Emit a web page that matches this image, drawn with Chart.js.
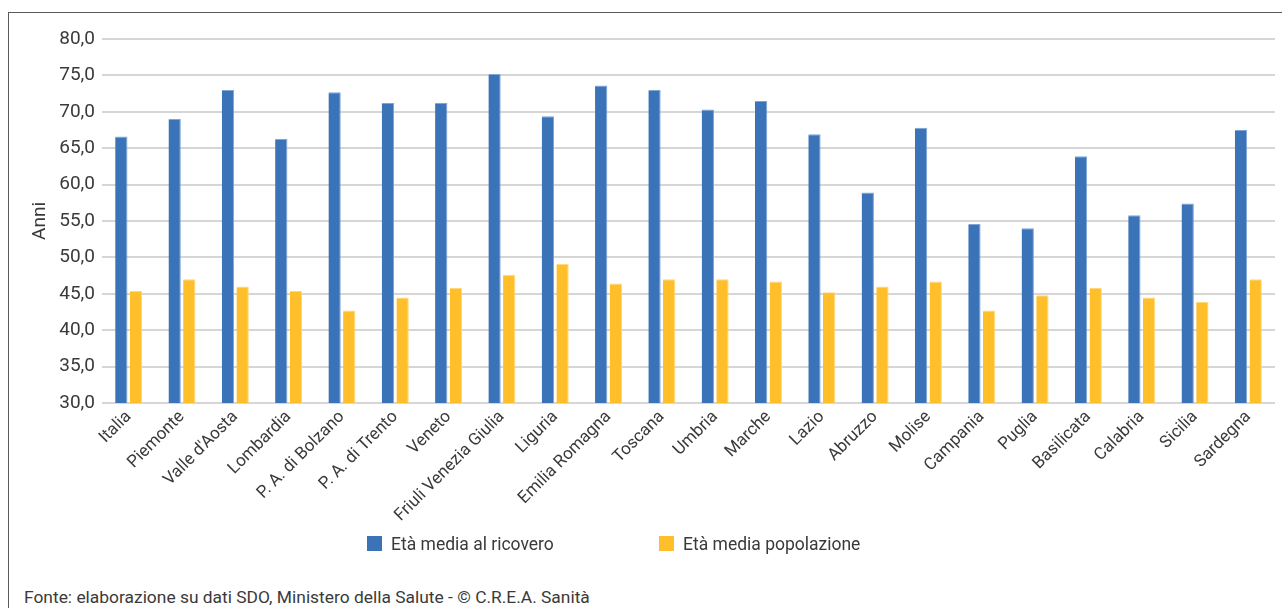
<!DOCTYPE html>
<html>
<head>
<meta charset="utf-8">
<script src="https://cdn.jsdelivr.net/npm/chart.js@4.4.1/dist/chart.umd.min.js"></script>
<style>
  html, body { margin: 0; padding: 0; background: #ffffff; }
  #wrap { position: relative; width: 1282px; height: 608px; overflow: hidden; font-family: Roboto, "Liberation Sans", sans-serif; color: #3a3a3a; }
  #frame { position: absolute; left: 8px; top: 12px; width: 1300px; height: 620px; border-left: 1px solid #5a5a5a; border-top: 1px solid #5a5a5a; }
  #cv { position: absolute; left: 0; top: 0; }
  .leg { position: absolute; top: 533px; font-size: 17.5px; line-height: 22px; white-space: nowrap; }
  .leg span.box { display: inline-block; width: 15px; height: 15px; vertical-align: -1px; margin-right: 9px; }
  #foot { position: absolute; left: 24px; top: 586px; font-size: 17.4px; line-height: 22px; white-space: nowrap; }
</style>
</head>
<body>
<div id="wrap">
  <div id="frame"></div>
  <canvas id="cv" width="1282" height="540"></canvas>
  <div class="leg" id="leg1" style="left:367px"><span class="box" style="background:#3B73B9"></span><span id="l1"></span></div>
  <div class="leg" id="leg2" style="left:659px"><span class="box" style="background:#FEBF2A"></span><span id="l2"></span></div>
  <div id="foot"></div>
</div>
<script>
const categories = ["Italia", "Piemonte", "Valle d'Aosta", "Lombardia", "P. A. di Bolzano", "P. A. di Trento", "Veneto", "Friuli Venezia Giulia", "Liguria", "Emilia Romagna", "Toscana", "Umbria", "Marche", "Lazio", "Abruzzo", "Molise", "Campania", "Puglia", "Basilicata", "Calabria", "Sicilia", "Sardegna"];
const etaRicovero = [66.6, 69.0, 73.0, 66.3, 72.7, 71.2, 71.2, 75.2, 69.4, 73.6, 73.0, 70.3, 71.5, 66.9, 58.9, 67.8, 54.6, 54.0, 63.9, 55.8, 57.4, 67.5];
const etaPopolazione = [45.4, 47.0, 46.0, 45.4, 42.7, 44.5, 45.8, 47.6, 49.1, 46.4, 47.0, 47.0, 46.7, 45.2, 46.0, 46.7, 42.7, 44.8, 45.8, 44.5, 43.9, 47.0];
const seriesNames = ["Età media al ricovero", "Età media popolazione"];
const yTitle = "Anni";
const sourceNote = "Fonte: elaborazione su dati SDO, Ministero della Salute - © C.R.E.A. Sanità";

document.getElementById('l1').textContent = seriesNames[0];
document.getElementById('l2').textContent = seriesNames[1];
document.getElementById('foot').textContent = sourceNote;

const FONT = "Roboto, 'Liberation Sans', sans-serif";
const TXT = '#3a3a3a';

new Chart(document.getElementById('cv'), {
  type: 'bar',
  data: {
    labels: categories,
    datasets: [
      { label: seriesNames[0], data: etaRicovero, backgroundColor: '#3B73B9', borderColor: '#7FA4D6', borderWidth: {left: 0, right: 1, top: 1, bottom: 0}, categoryPercentage: 0.55, barPercentage: 0.84 },
      { label: seriesNames[1], data: etaPopolazione, backgroundColor: '#FEBF2A', borderColor: '#FFD97A', borderWidth: {left: 0, right: 1, top: 1, bottom: 0}, categoryPercentage: 0.55, barPercentage: 0.84 }
    ]
  },
  options: {
    responsive: false,
    animation: false,
    layout: { padding: { top: 39, left: 25, right: 7, bottom: 0 } },
    plugins: { legend: { display: false }, tooltip: { enabled: false } },
    scales: {
      x: {
        grid: { display: false, drawTicks: false },
        border: { display: false },
        ticks: { color: TXT, font: { family: FONT, size: 17 }, maxRotation: 45, minRotation: 45, autoSkip: false, padding: 4 },
        afterFit: (s) => { s.height = 137; }
      },
      y: {
        min: 30, max: 80,
        grid: { color: '#d6d6d6', lineWidth: 2, drawTicks: false },
        border: { display: false },
        ticks: { stepSize: 5, color: TXT, font: { family: FONT, size: 19 }, padding: 7,
          callback: (v) => v.toFixed(1).replace('.', ',') },
        title: { display: true, text: yTitle, color: TXT, font: { family: FONT, size: 19 }, padding: { top: 4, bottom: 4 } },
        afterFit: (s) => { s.width = 77; }
      }
    }
  }
});
</script>
</body>
</html>
